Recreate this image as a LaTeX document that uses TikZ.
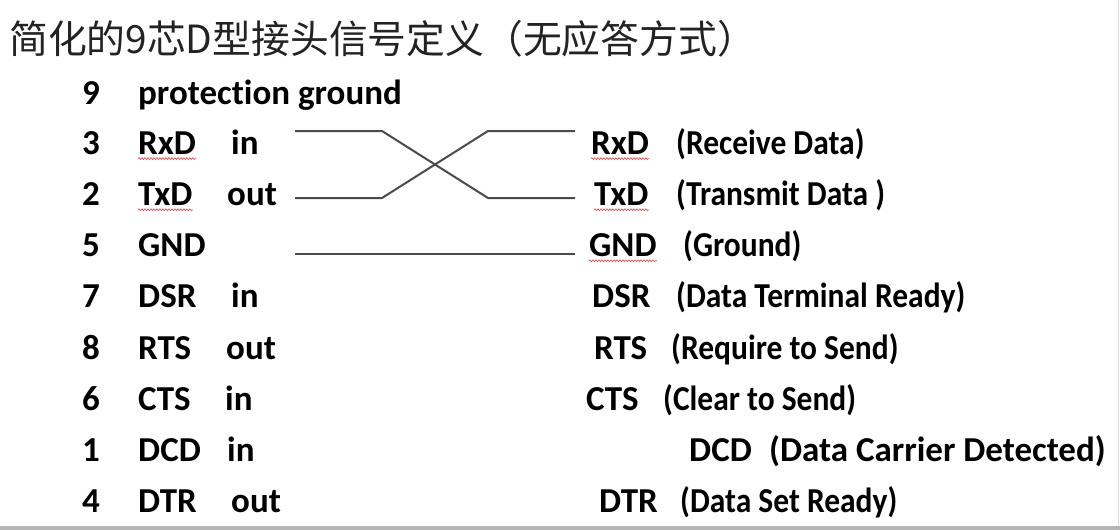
\documentclass[tikz,border=0pt]{standalone}
\usepackage{fontspec}
\usepackage{graphicx}
\setmainfont[Ligatures=NoCommon]{Carlito}
\newfontfamily\cjk{Noto Sans CJK SC}
\usetikzlibrary{decorations.pathmorphing}
\definecolor{wire}{RGB}{75,75,75}
\definecolor{squig}{RGB}{215,90,90}
\definecolor{barc}{RGB}{182,182,182}
\definecolor{titlec}{RGB}{35,35,35}
\newcommand{\cond}[1]{\scalebox{0.9}[1]{#1}}
\tikzset{
  lbl/.style={inner sep=0pt, anchor=base west, font=\fontsize{35}{36}\selectfont\bfseries},
  num/.style={inner sep=0pt, anchor=base, font=\fontsize{35}{36}\selectfont\bfseries},
  wireline/.style={draw=wire, line width=2pt},
  spell/.style={draw=squig, line width=0.7pt, decorate, decoration={snake, amplitude=0.9pt, segment length=3pt}}
}
\begin{document}
\begin{tikzpicture}[x=1pt,y=-1pt]
\useasboundingbox (0,0) rectangle (1120,530);
\fill[white] (0,0) rectangle (1120,530);
\fill[barc] (0,525.5) rectangle (1120,530);
\draw[barc!50, line width=0.8pt] (1118,0) -- (1118,525.5);
% title
\node[inner sep=0pt, anchor=base west, text=titlec, font=\cjk\fontsize{38.8}{39}\selectfont] (title) at (9,53) {简化的9芯D型接头信号定义（无应答方式）};
% left column
\node[num] (n9) at (91,104) {9};
\node[lbl] (pg) at (138,104) {protection ground};
\node[num] (n3) at (91,154.6) {3};
\node[lbl] (lrxd) at (138,154.6) {RxD};
\node[lbl] (lrxdio) at (231,154.6) {in};
\node[num] (n2) at (91,205.7) {2};
\node[lbl] (ltxd) at (138,205.7) {TxD};
\node[lbl] (ltxdio) at (227,205.7) {out};
\node[num] (n5) at (91,256.8) {5};
\node[lbl] (lgnd) at (138,256.8) {GND};
\node[num] (n7) at (91,307.9) {7};
\node[lbl] (ldsr) at (138,307.9) {DSR};
\node[lbl] (ldsrio) at (231,307.9) {in};
\node[num] (n8) at (91,359) {8};
\node[lbl] (lrts) at (138,359) {RTS};
\node[lbl] (lrtsio) at (226,359) {out};
\node[num] (n6) at (91,410.1) {6};
\node[lbl] (lcts) at (138,410.1) {CTS};
\node[lbl] (lctsio) at (225,410.1) {in};
\node[num] (n1) at (91,461.2) {1};
\node[lbl] (ldcd) at (138,461.2) {DCD};
\node[lbl] (ldcdio) at (227,461.2) {in};
\node[num] (n4) at (91,512) {4};
\node[lbl] (ldtr) at (138,512) {DTR};
\node[lbl] (ldtrio) at (231,512) {out};
% right column
\node[lbl] (rrxd) at (591,154.6) {RxD};
\node[lbl] (rrxdd) at (676,154.6) {\cond{(Receive Data)}};
\node[lbl] (rtxd) at (594,205.7) {TxD};
\node[lbl] (rtxdd) at (676,205.7) {\cond{(Transmit Data )}};
\node[lbl] (rgnd) at (589,256.8) {GND};
\node[lbl] (rgndd) at (683,256.8) {\cond{(Ground)}};
\node[lbl] (rdsr) at (592,307.9) {DSR};
\node[lbl] (rdsrd) at (676,307.9) {\cond{(Data Terminal Ready)}};
\node[lbl] (rrts) at (594,359) {RTS};
\node[lbl] (rrtsd) at (671,359) {\cond{(Require to Send)}};
\node[lbl] (rcts) at (586,410.1) {CTS};
\node[lbl] (rctsd) at (663,410.1) {\cond{(Clear to Send)}};
\node[lbl] (rdcd) at (689,461.2) {DCD};
\node[lbl] (rdcdd) at (769,461.2) {(Data Carrier Detected)};
\node[lbl] (rdtr) at (599,512) {DTR};
\node[lbl] (rdtrd) at (680,512) {\cond{(Data Set Ready)}};
% wiring
\coordinate (a1) at (295,131);
\coordinate (a2) at (382,131);
\coordinate (b1) at (295,198);
\coordinate (b2) at (382,198);
\coordinate (c1) at (488,131);
\coordinate (c2) at (575,131);
\coordinate (d1) at (488,198);
\coordinate (d2) at (575,198);
\coordinate (g1) at (295,254);
\coordinate (g2) at (575,254);
\draw[wireline] (a1) -- (a2) -- (d1) -- (d2);
\draw[wireline] (b1) -- (b2) -- (c1) -- (c2);
\draw[wireline] (g1) -- (g2);
% spell-check underlines
\draw[spell] ([yshift=-4pt]lrxd.base west) -- ([yshift=-4pt]lrxd.base east);
\draw[spell] ([yshift=-4pt]ltxd.base west) -- ([yshift=-4pt]ltxd.base east);
\draw[spell] ([yshift=-4pt]rrxd.base west) -- ([yshift=-4pt]rrxd.base east);
\draw[spell] ([yshift=-4pt]rtxd.base west) -- ([yshift=-4pt]rtxd.base east);
\draw[spell] ([yshift=-4pt]rgnd.base west) -- ([yshift=-4pt]rgnd.base east);
\end{tikzpicture}
\end{document}
